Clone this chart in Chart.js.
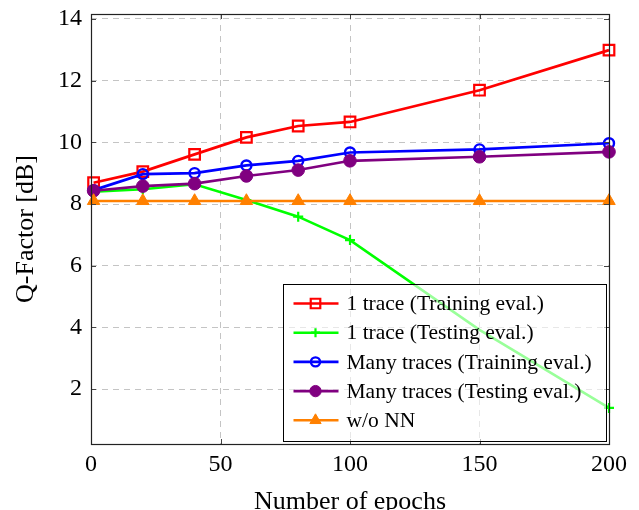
<!DOCTYPE html>
<html>
<head>
<meta charset="utf-8">
<script src="https://cdn.jsdelivr.net/npm/chart.js@4/dist/chart.umd.min.js"></script>
<style>
  html, body { margin: 0; padding: 0; background: #ffffff; }
  #wrap { width: 639px; height: 510px; }
</style>
</head>
<body>
<div id="wrap"><canvas id="c" width="639" height="510"></canvas></div>
<script>
// ---- data ----
const epochs = [1, 20, 40, 60, 80, 100, 150, 200];
const oneTraceTrain = [8.69, 9.05, 9.61, 10.16, 10.53, 10.66, 11.69, 12.99];
const oneTraceTest = [8.40, 8.48, 8.64, 8.13, 7.59, 6.83, 3.92, 1.39];
const manyTracesTrain = [8.45, 8.97, 9.00, 9.25, 9.40, 9.67, 9.77, 9.97];
const manyTracesTest = [8.43, 8.58, 8.66, 8.91, 9.10, 9.40, 9.53, 9.69];
const withoutNN = [8.10, 8.10, 8.10, 8.10, 8.10, 8.10, 8.10, 8.10];
const seriesLabels = [
  "1 trace (Training eval.)",
  "1 trace (Testing eval.)",
  "Many traces (Training eval.)",
  "Many traces (Testing eval.)",
  "w/o NN"
];
const xTicks = [0, 50, 100, 150, 200];
const yTicks = [2, 4, 6, 8, 10, 12, 14];
const xTitle = "Number of epochs";
const yTitle = "Q-Factor [dB]";

const SERIF = "'Liberation Serif', 'DejaVu Serif', serif";

function pts(ys) { return epochs.map((x, i) => ({ x: x, y: ys[i] })); }

const datasets = [
  { label: seriesLabels[0], data: pts(oneTraceTrain), borderColor: '#ff0000', pointBackgroundColor: 'rgba(255,255,255,0)',
    pointBorderColor: '#ff0000', pointStyle: 'rect', pointRadius: 7.5, pointBorderWidth: 2.2, borderWidth: 2.7, order: 4 },
  { label: seriesLabels[1], data: pts(oneTraceTest), borderColor: '#00ff00', pointBackgroundColor: '#00ff00',
    pointBorderColor: '#00ff00', pointStyle: 'cross', pointRadius: [5, 5, 5, 5, 5, 5, 0, 5], pointBorderWidth: 2.2, borderWidth: 2.6, order: 3 },
  { label: seriesLabels[2], data: pts(manyTracesTrain), borderColor: '#0000ff', pointBackgroundColor: 'rgba(255,255,255,0)',
    pointBorderColor: '#0000ff', pointStyle: 'circle', pointRadius: 5, pointBorderWidth: 2.4, borderWidth: 2.7, order: 2 },
  { label: seriesLabels[3], data: pts(manyTracesTest), borderColor: '#800080', pointBackgroundColor: '#800080',
    pointBorderColor: '#800080', pointStyle: 'circle', pointRadius: 6.3, pointBorderWidth: 1, borderWidth: 2.6, order: 1 },
  { label: seriesLabels[4], data: pts(withoutNN), borderColor: '#ff8000', pointBackgroundColor: '#ff8000',
    pointBorderColor: '#ff8000', pointStyle: 'triangle', pointRadius: 7.2, pointBorderWidth: 1, borderWidth: 2.4, order: 0 }
];
datasets.forEach(d => { d.tension = 0; d.fill = false; d.clip = false; d.pointHoverRadius = d.pointRadius; });

// frame, inner ticks and legend drawn on top of the plot
const framePlugin = {
  id: 'frameLegend',
  afterDatasetsDraw(chart) {
    const ctx = chart.ctx;
    const a = chart.chartArea;
    const xs = chart.scales.x, ys = chart.scales.y;
    ctx.save();
    // inner ticks
    ctx.strokeStyle = '#444';
    ctx.lineWidth = 1;
    ctx.beginPath();
    yTicks.forEach(v => {
      const y = Math.round(ys.getPixelForValue(v)) + 0.5;
      ctx.moveTo(a.left, y); ctx.lineTo(a.left + 5, y);
      ctx.moveTo(a.right, y); ctx.lineTo(a.right - 5, y);
    });
    xTicks.forEach(v => {
      const x = Math.round(xs.getPixelForValue(v)) + 0.5;
      ctx.moveTo(x, a.bottom); ctx.lineTo(x, a.bottom - 5);
      ctx.moveTo(x, a.top); ctx.lineTo(x, a.top + 5);
    });
    ctx.stroke();
    // frame
    ctx.strokeStyle = '#222';
    ctx.lineWidth = 1.2;
    ctx.strokeRect(Math.round(a.left) + 0.5, Math.round(a.top) + 0.5,
                   Math.round(a.right - a.left), Math.round(a.bottom - a.top));

    // legend
    const w = 323, h = 157;
    const x0 = Math.round(a.right - 3 - w) + 0.5;
    const y0 = Math.round(a.bottom - 3 - h) + 0.5;
    ctx.fillStyle = 'rgba(255,255,255,0.6)';
    ctx.fillRect(x0, y0, w, h);
    ctx.strokeStyle = '#000';
    ctx.lineWidth = 1;
    ctx.strokeRect(x0, y0, w, h);
    const rowH = 29.2;
    chart.data.datasets.forEach((d, i) => {
      const cy = y0 + 19 + i * rowH;
      const r = Array.isArray(d.pointRadius) ? d.pointRadius[0] : d.pointRadius;
      ctx.strokeStyle = d.borderColor;
      ctx.lineWidth = d.borderWidth;
      ctx.setLineDash([]);
      ctx.beginPath();
      ctx.moveTo(x0 + 10, cy); ctx.lineTo(x0 + 55, cy);
      ctx.stroke();
      ctx.fillStyle = d.pointBackgroundColor;
      ctx.strokeStyle = d.pointBorderColor;
      ctx.lineWidth = d.pointBorderWidth;
      Chart.helpers.drawPoint(ctx, { pointStyle: d.pointStyle, radius: r * 0.9, rotation: 0, borderWidth: d.pointBorderWidth }, x0 + 32, cy);
      ctx.fillStyle = '#000';
      ctx.font = "21.5px " + SERIF;
      ctx.textAlign = 'left';
      ctx.textBaseline = 'middle';
      ctx.fillText(d.label, x0 + 63, cy + 1);
    });
    ctx.restore();
  }
};

new Chart(document.getElementById('c'), {
  type: 'line',
  data: { datasets: datasets },
  options: {
    responsive: false,
    animation: false,
    devicePixelRatio: 1,
    layout: { padding: { left: 0, top: 14, right: 30, bottom: 0 } },
    plugins: { legend: { display: false }, tooltip: { enabled: false } },
    scales: {
      x: {
        type: 'linear', min: 0, max: 200,
        afterBuildTicks: s => { s.ticks = xTicks.map(v => ({ value: v })); },
        afterFit: s => { s.height = 66; s.paddingLeft = 0; s.paddingRight = 0; },
        grid: { color: '#c4c4c4', lineWidth: 1, drawTicks: false },
        border: { display: false, dash: [6, 5] },
        ticks: { color: '#000', font: { family: SERIF, size: 24 }, padding: 6, maxRotation: 0 },
        title: { display: true, text: xTitle, color: '#000', font: { family: SERIF, size: 26 }, padding: { top: 0, bottom: -8 } }
      },
      y: {
        type: 'linear', min: 0.22, max: 14.16,
        afterBuildTicks: s => { s.ticks = yTicks.map(v => ({ value: v })); },
        afterFit: s => { s.width = 91; s.paddingTop = 0; s.paddingBottom = 0; },
        grid: { color: '#c4c4c4', lineWidth: 1, drawTicks: false },
        border: { display: false, dash: [6, 5] },
        ticks: { color: '#000', font: { family: SERIF, size: 24 }, padding: 9 },
        title: { display: true, text: yTitle, color: '#000', font: { family: SERIF, size: 26 }, padding: { top: 11, bottom: 0 } }
      }
    }
  },
  plugins: [framePlugin]
});
</script>
</body>
</html>
